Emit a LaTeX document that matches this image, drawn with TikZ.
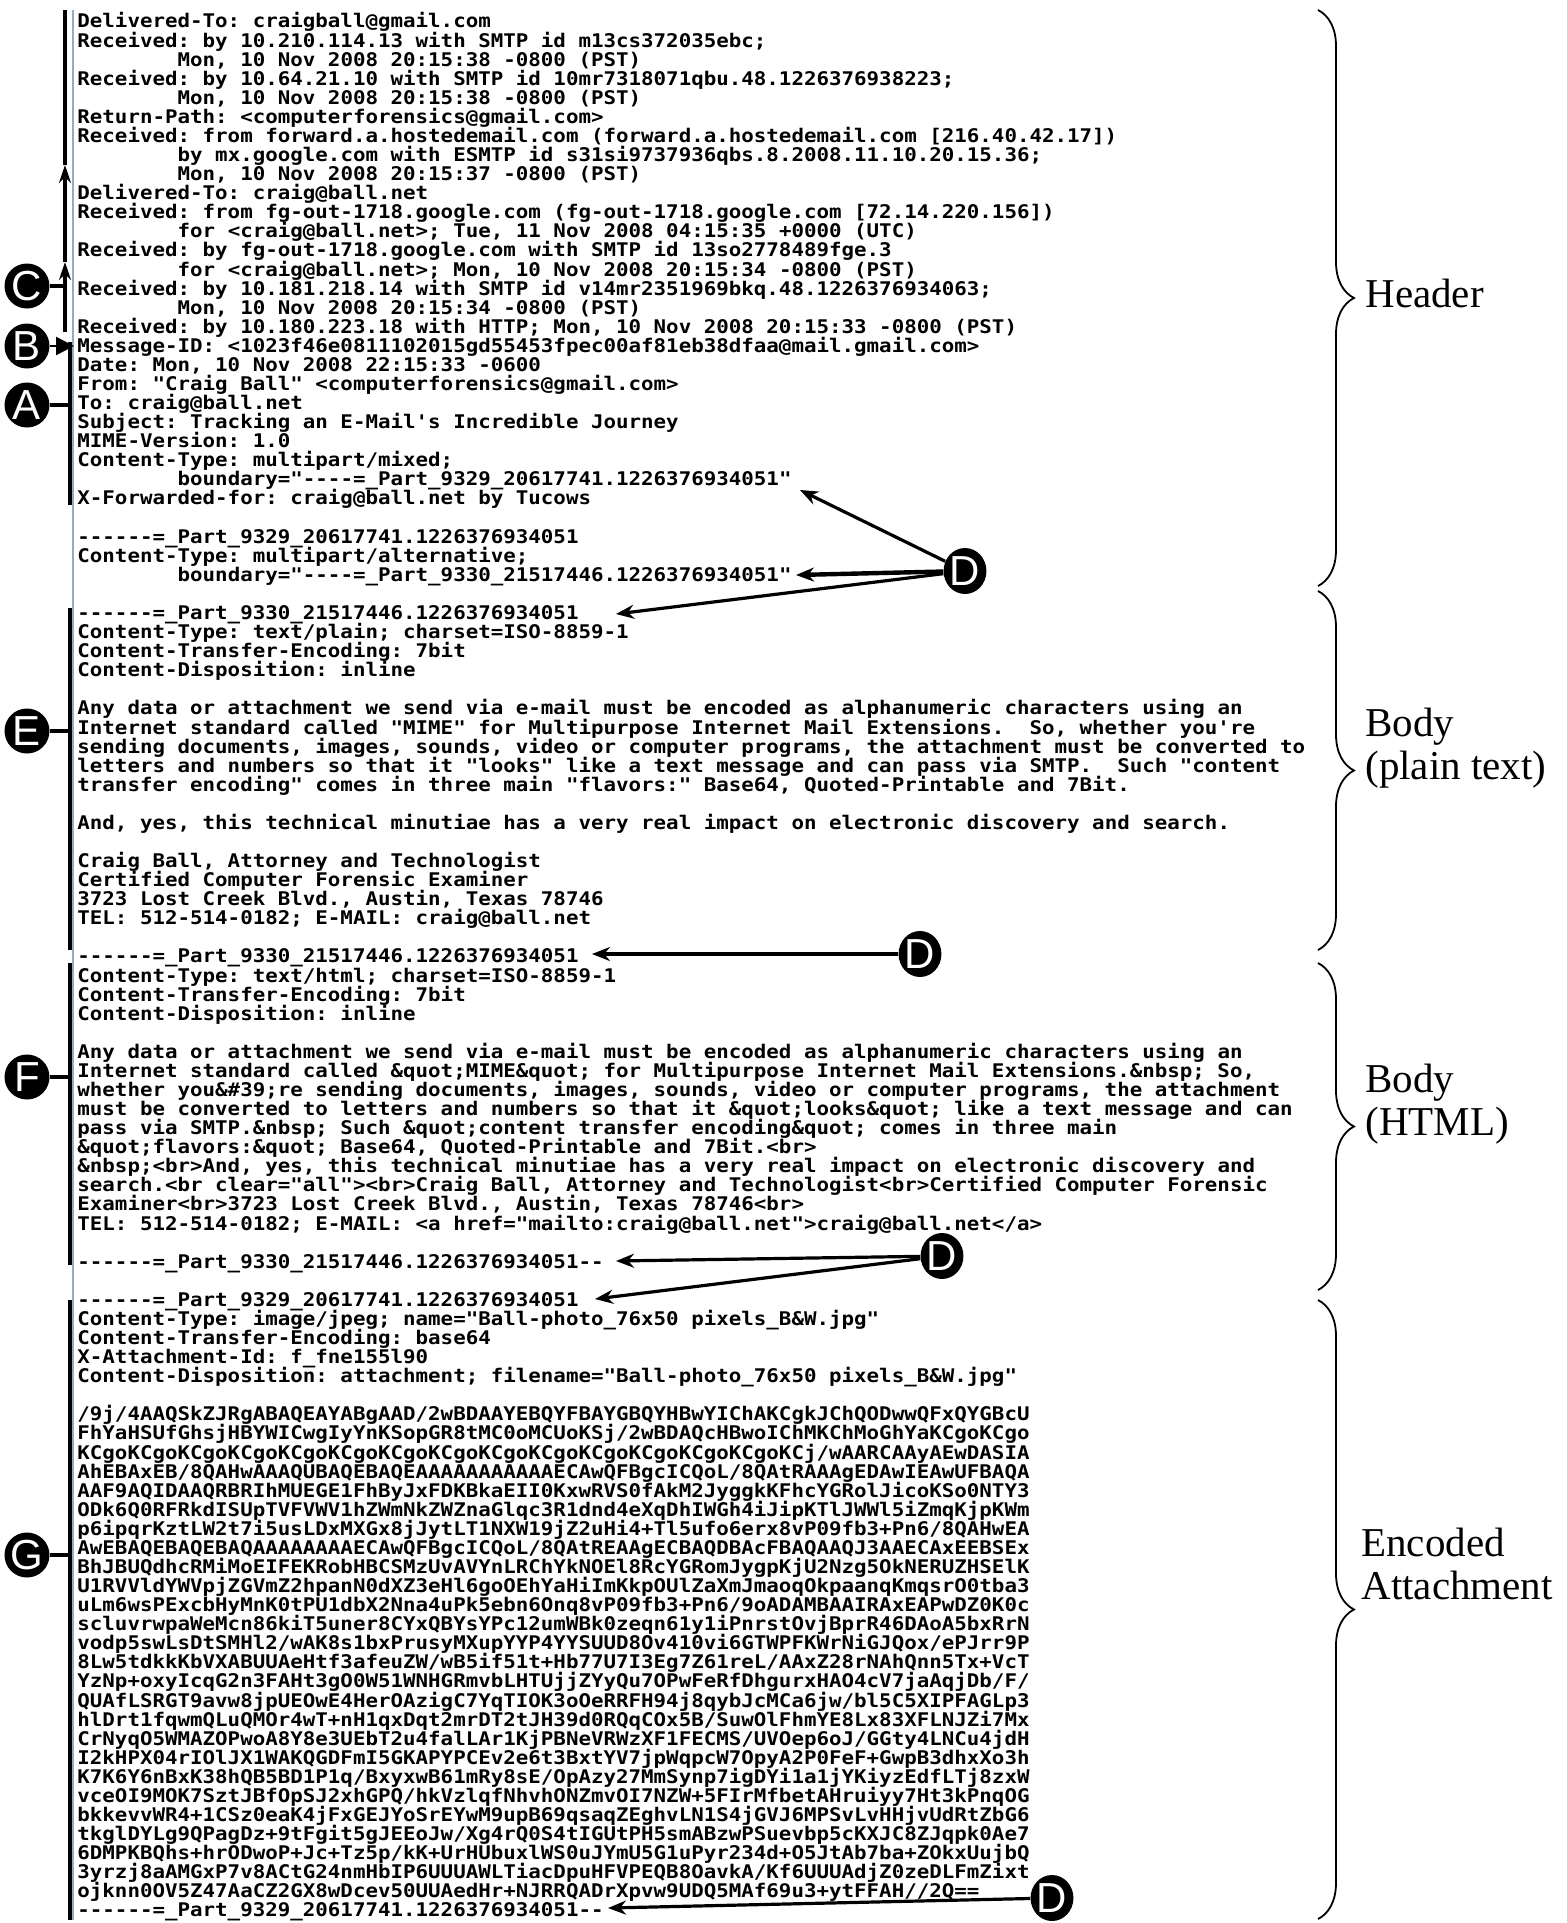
\documentclass[tikz,border=0pt]{standalone}
\usepackage{fontspec}
\setmonofont[FakeStretch=1.107]{DejaVu Sans Mono}
\newfontfamily\labelfont{Liberation Serif}
\newfontfamily\badgefont{Liberation Sans}
\usetikzlibrary{arrows.meta,decorations.pathreplacing,shapes.geometric}
\newcommand\mailindent{\phantom{xxxxxxxx}}
% fixed line pitch for the message source, whatever the glyph heights
\newcommand\mailfont{\ttfamily\bfseries\frenchspacing\fontsize{9.4}{9.54}\selectfont
  \lineskiplimit=-20pt\relax\lineskip=0pt\relax}
\definecolor{margin}{RGB}{150,170,200}
\tikzset{
  x=0.5pt, y=-0.5pt,
  % multi-line blocks are placed by the baseline of their last line
  mailtext/.style={anchor=base west, inner sep=0pt, align=left, font=\mailfont},
  badge/.style={circle, fill=black, minimum size=22.5pt, inner sep=0pt, text=white,
    font=\badgefont\fontsize{21}{21}\selectfont},
  dbadge/.style={badge, ellipse, minimum width=21pt, minimum height=23pt},
  bar/.style={line width=2.2pt},
  faintbar/.style={line width=0.6pt, margin},
  pointer/.style={line width=1.6pt, -{Stealth[length=9pt,width=7pt]}},
  upflow/.style={line width=2pt, -{Stealth[length=9pt,width=6pt]}},
  tick/.style={line width=1.8pt},
  section brace/.style={decorate, decoration={brace, amplitude=18pt}, line width=0.9pt},
  seclabel/.style={anchor=base west, inner sep=0pt, align=left,
    font=\labelfont\fontsize{20.5}{21.5}\selectfont}
}
\begin{document}
\begin{tikzpicture}
\useasboundingbox[fill=white] (0,0) rectangle (1567,1923);

% thin margin rule along the left edge of the source text
\draw[faintbar] (73,10) -- (73,1920);

% ---------------- message source ----------------
\node[mailtext] (hdr) at (77,581.3) {%
Delivered-To: craigball@gmail.com\\
Received: by 10.210.114.13 with SMTP id m13cs372035ebc;\\
\mailindent Mon, 10 Nov 2008 20:15:38 -0800 (PST)\\
Received: by 10.64.21.10 with SMTP id 10mr7318071qbu.48.1226376938223;\\
\mailindent Mon, 10 Nov 2008 20:15:38 -0800 (PST)\\
Return-Path: <computerforensics@gmail.com>\\
Received: from forward.a.hostedemail.com (forward.a.hostedemail.com [216.40.42.17])\\
\mailindent by mx.google.com with ESMTP id s31si9737936qbs.8.2008.11.10.20.15.36;\\
\mailindent Mon, 10 Nov 2008 20:15:37 -0800 (PST)\\
Delivered-To: craig@ball.net\\
Received: from fg-out-1718.google.com (fg-out-1718.google.com [72.14.220.156])\\
\mailindent for <craig@ball.net>; Tue, 11 Nov 2008 04:15:35 +0000 (UTC)\\
Received: by fg-out-1718.google.com with SMTP id 13so2778489fge.3\\
\mailindent for <craig@ball.net>; Mon, 10 Nov 2008 20:15:34 -0800 (PST)\\
Received: by 10.181.218.14 with SMTP id v14mr2351969bkq.48.1226376934063;\\
\mailindent Mon, 10 Nov 2008 20:15:34 -0800 (PST)\\
Received: by 10.180.223.18 with HTTP; Mon, 10 Nov 2008 20:15:33 -0800 (PST)\\
Message-ID: <1023f46e0811102015gd55453fpec00af81eb38dfaa@mail.gmail.com>\\
Date: Mon, 10 Nov 2008 22:15:33 -0600\\
From: "Craig Ball" <computerforensics@gmail.com>\\
To: craig@ball.net\\
Subject: Tracking an E-Mail's Incredible Journey\\
MIME-Version: 1.0\\
Content-Type: multipart/mixed;\\
\mailindent boundary="----=\_Part\_9329\_20617741.1226376934051"\\
X-Forwarded-for: craig@ball.net by Tucows\\
\mbox{}\\
------=\_Part\_9329\_20617741.1226376934051\\
Content-Type: multipart/alternative;\\
\mailindent boundary="----=\_Part\_9330\_21517446.1226376934051"};

\node[mailtext] (plain) at (77,924.8) {%
------=\_Part\_9330\_21517446.1226376934051\\
Content-Type: text/plain; charset=ISO-8859-1\\
Content-Transfer-Encoding: 7bit\\
Content-Disposition: inline\\
\mbox{}\\
Any data or attachment we send via e-mail must be encoded as alphanumeric characters using an\\
Internet standard called "MIME" for Multipurpose Internet Mail Extensions.~ So, whether you're\\
sending documents, images, sounds, video or computer programs, the attachment must be converted to\\
letters and numbers so that it "looks" like a text message and can pass via SMTP.~ Such "content\\
transfer encoding" comes in three main "flavors:" Base64, Quoted-Printable and 7Bit.\\
\mbox{}\\
And, yes, this technical minutiae has a very real impact on electronic discovery and search.\\
\mbox{}\\
Craig Ball, Attorney and Technologist\\
Certified Computer Forensic Examiner\\
3723 Lost Creek Blvd., Austin, Texas 78746\\
TEL: 512-514-0182; E-MAIL: craig@ball.net};

\node[mailtext] (html) at (77,1268.2) {%
------=\_Part\_9330\_21517446.1226376934051\\
Content-Type: text/html; charset=ISO-8859-1\\
Content-Transfer-Encoding: 7bit\\
Content-Disposition: inline\\
\mbox{}\\
Any data or attachment we send via e-mail must be encoded as alphanumeric characters using an\\
Internet standard called \&quot;MIME\&quot; for Multipurpose Internet Mail Extensions.\&nbsp; So,\\
whether you\&\#39;re sending documents, images, sounds, video or computer programs, the attachment\\
must be converted to letters and numbers so that it \&quot;looks\&quot; like a text message and can\\
pass via SMTP.\&nbsp; Such \&quot;content transfer encoding\&quot; comes in three main\\
\&quot;flavors:\&quot; Base64, Quoted-Printable and 7Bit.<br>\\
\&nbsp;<br>And, yes, this technical minutiae has a very real impact on electronic discovery and\\
search.<br clear="all"><br>Craig Ball, Attorney and Technologist<br>Certified Computer Forensic\\
Examiner<br>3723 Lost Creek Blvd., Austin, Texas 78746<br>\\
TEL: 512-514-0182; E-MAIL: <a href="mailto:craig@ball.net">craig@ball.net</a>\\
\mbox{}\\
------=\_Part\_9330\_21517446.1226376934051--};

\node[mailtext] (attach) at (77,1916.9) {%
------=\_Part\_9329\_20617741.1226376934051\\
Content-Type: image/jpeg; name="Ball-photo\_76x50 pixels\_B\&W.jpg"\\
Content-Transfer-Encoding: base64\\
X-Attachment-Id: f\_fne155l90\\
Content-Disposition: attachment; filename="Ball-photo\_76x50 pixels\_B\&W.jpg"\\
\mbox{}\\
/9j/4AAQSkZJRgABAQEAYABgAAD/2wBDAAYEBQYFBAYGBQYHBwYIChAKCgkJChQODwwQFxQYGBcU\\
FhYaHSUfGhsjHBYWICwgIyYnKSopGR8tMC0oMCUoKSj/2wBDAQcHBwoIChMKChMoGhYaKCgoKCgo\\
KCgoKCgoKCgoKCgoKCgoKCgoKCgoKCgoKCgoKCgoKCgoKCgoKCgoKCgoKCj/wAARCAAyAEwDASIA\\
AhEBAxEB/8QAHwAAAQUBAQEBAQEAAAAAAAAAAAECAwQFBgcICQoL/8QAtRAAAgEDAwIEAwUFBAQA\\
AAF9AQIDAAQRBRIhMUEGE1FhByJxFDKBkaEII0KxwRVS0fAkM2JyggkKFhcYGRolJicoKSo0NTY3\\
ODk6Q0RFRkdISUpTVFVWV1hZWmNkZWZnaGlqc3R1dnd4eXqDhIWGh4iJipKTlJWWl5iZmqKjpKWm\\
p6ipqrKztLW2t7i5usLDxMXGx8jJytLT1NXW19jZ2uHi4+Tl5ufo6erx8vP09fb3+Pn6/8QAHwEA\\
AwEBAQEBAQEBAQAAAAAAAAECAwQFBgcICQoL/8QAtREAAgECBAQDBAcFBAQAAQJ3AAECAxEEBSEx\\
BhJBUQdhcRMiMoEIFEKRobHBCSMzUvAVYnLRChYkNOEl8RcYGRomJygpKjU2Nzg5OkNERUZHSElK\\
U1RVVldYWVpjZGVmZ2hpanN0dXZ3eHl6goOEhYaHiImKkpOUlZaXmJmaoqOkpaanqKmqsrO0tba3\\
uLm6wsPExcbHyMnK0tPU1dbX2Nna4uPk5ebn6Onq8vP09fb3+Pn6/9oADAMBAAIRAxEAPwDZ0K0c\\
scluvrwpaWeMcn86kiT5uner8CYxQBYsYPc12umWBk0zeqn61y1iPnrstOvjBprR46DAoA5bxRrN\\
vodp5swLsDtSMHl2/wAK8s1bxPrusyMXupYYP4YYSUUD8Ov410vi6GTWPFKWrNiGJQox/ePJrr9P\\
8Lw5tdkkKbVXABUUAeHtf3afeuZW/wB5if51t+Hb77U7I3Eg7Z61reL/AAxZ28rNAhQnn5Tx+VcT\\
YzNp+oxyIcqG2n3FAHt3gO0W51WNHGRmvbLHTUjjZYyQu7OPwFeRfDhgurxHAO4cV7jaAqjDb/F/\\
QUAfLSRGT9avw8jpUEOwE4HerOAzigC7YqTIOK3oOeRRFH94j8qybJcMCa6jw/bl5C5XIPFAGLp3\\
hlDrt1fqwmQLuQMOr4wT+nH1qxDqt2mrDT2tJH39d0RQqCOx5B/SuwOlFhmYE8Lx83XFLNJZi7Mx\\
CrNyqO5WMAZOPwoA8Y8e3UEbT2u4falLAr1KjPBNeVRWzXF1FECMS/UVOep6oJ/GGty4LNCu4jdH\\
I2kHPX04rIOlJX1WAKQGDFmI5GKAPYPCEv2e6t3BxtYV7jpWqpcW7OpyA2P0FeF+GwpB3dhxXo3h\\
K7K6Y6nBxK38hQB5BD1P1q/BxyxwB61mRy8sE/OpAzy27MmSynp7igDYi1a1jYKiyzEdfLTj8zxW\\
vceOI9MOK7SztJBfOpSJ2xhGPQ/hkVzlqfNhvhONZmvOI7NZW+5FIrMfbetAHruiyy7Ht3kPnqOG\\
bkkevvWR4+1CSz0eaK4jFxGEJYoSrEYwM9upB69qsaqZEghvLN1S4jGVJ6MPSvLvHHjvUdRtZbG6\\
tkglDYLg9QPagDz+9tFgit5gJEEoJw/Xg4rQ0S4tIGUtPH5smABzwPSuevbp5cKXJC8ZJqpk0Ae7\\
6DMPKBQhs+hrODwoP+Jc+Tz5p/kK+UrHUbuxlWS0uJYmU5G1uPyr234d+O5JtAb7ba+ZOkxUujbQ\\
3yrzj8aAMGxP7v8ACtG24nmHbIP6UUUAWLTiacDpuHFVPEQB8OavkA/Kf6UUUAdjZ0zeDLFmZixt\\
ojknn0OV5Z47AaCZ2GX8wDcev50UUAedHr+NJRRQADrXpvw9UDQ5MAf69u3+ytFFAH//2Q==\\
------=\_Part\_9329\_20617741.1226376934051--};

% ---------------- left-hand bars ----------------
\draw[bar] (70,342) -- (70,505);
\draw[bar] (70,608) -- (70,950);
\draw[bar] (70,963) -- (70,1265);
\draw[bar] (70,1300) -- (70,1920);

% ---------------- lettered callouts ----------------
\node[badge] (mC) at (27,286) {C};
\node[badge] (mB) at (27,346) {B};
\node[badge] (mA) at (27,405) {A};
\node[badge] (mE) at (27,731) {E};
\node[badge] (mF) at (27,1077) {F};
\node[badge] (mG) at (27,1555) {G};

% C: the Received chain is read from the bottom up
\coordinate (cLow) at (65,332);
\coordinate (cMid) at (65,262);
\coordinate (cHigh) at (65,165);
\coordinate (cTop) at (65,10);
\coordinate (cJoin) at (65,286);
\draw[upflow] (cLow) -- (cMid);
\draw[upflow] (cMid) -- (cHigh);
\draw[line width=2pt] (cHigh) -- (cTop);
\draw[tick] (mC.east) -- (cJoin);

\coordinate (tB) at (74,346);
\draw[line width=1.2pt, -{Triangle[length=9pt,width=9pt]}] (mB.east) -- (tB);
\draw[tick] (mA.east) -- (70,405);
\draw[tick] (mE.east) -- (70,731);
\draw[tick] (mF.east) -- (70,1077);
\draw[tick] (mG.east) -- (70,1555);

% ---------------- MIME boundary callouts ----------------
\node[dbadge] (d1) at (965,571) {D};
\node[dbadge] (d2) at (920,954) {D};
\node[dbadge] (d3) at (942,1256) {D};
\node[dbadge] (d4) at (1052,1898) {D};

\coordinate (b1) at (800,490);
\coordinate (b2) at (796,575);
\coordinate (b3) at (616,614);
\coordinate (b4) at (592,954);
\coordinate (b5) at (616,1261);
\coordinate (b6) at (595,1299);
\coordinate (b7) at (608,1908);

\draw[pointer] (d1) -- (b1);
\draw[pointer, line width=2.2pt] (d1) -- (b2);
\draw[pointer] (d1) -- (b3);
\draw[pointer] (d2) -- (b4);
\draw[pointer] (d3) -- (b5);
\draw[pointer] (d3) -- (b6);
\draw[pointer] (d4) -- (b7);

% ---------------- section braces and labels ----------------
\draw[section brace] (1318,10) -- (1318,586);
\draw[section brace] (1318,591) -- (1318,950);
\draw[section brace] (1318,963) -- (1318,1290);
\draw[section brace] (1318,1300) -- (1318,1919);

\node[seclabel] (lHeader) at (1365,307) {Header};
\node[seclabel] (lPlain) at (1365,779) {Body\\(plain text)};
\node[seclabel] (lHtml) at (1365,1135) {Body\\(HTML)};
\node[seclabel] (lAttach) at (1361,1599) {Encoded\\Attachment};
\end{tikzpicture}
\end{document}
